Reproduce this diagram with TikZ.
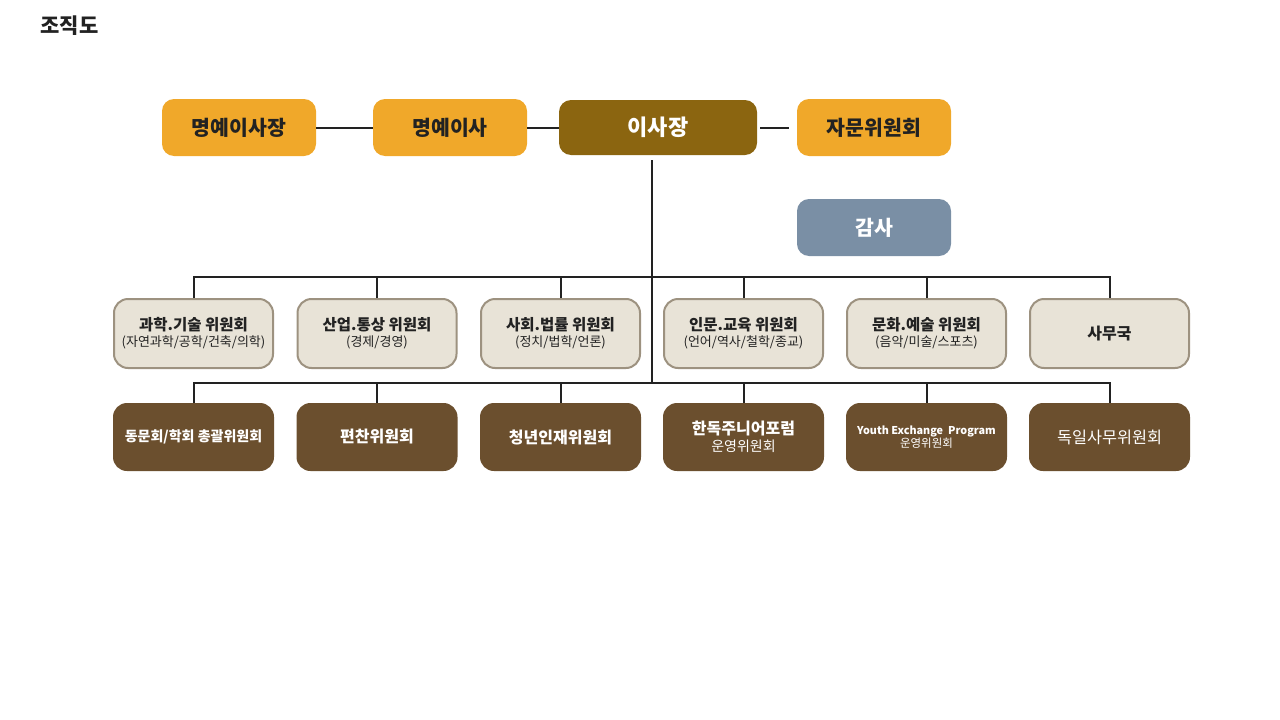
\documentclass[tikz,border=0pt]{standalone}
\usepackage{fontspec}
\setmainfont{Noto Sans CJK KR}
\definecolor{honor}{HTML}{F0A82A}
\definecolor{chair}{HTML}{8B6510}
\definecolor{audit}{HTML}{7A8FA5}
\definecolor{commfill}{HTML}{E8E3D7}
\definecolor{commline}{HTML}{9D9280}
\definecolor{subfill}{HTML}{6B4F2E}
\definecolor{inkdark}{HTML}{222222}
\begin{document}
\begin{tikzpicture}[x=1pt,y=-1pt,
	topbox/.style={rounded corners=12pt,minimum width=154pt,minimum height=57pt,fill=honor,text=inkdark,font=\bfseries\fontsize{20.5}{22}\selectfont},
	commbox/.style={rounded corners=14pt,draw=commline,line width=2pt,fill=commfill,minimum width=159pt,minimum height=69pt,align=center,text=inkdark,font=\fontsize{13}{16}\selectfont},
	subbox/.style={rounded corners=14pt,fill=subfill,minimum width=161pt,minimum height=68pt,align=center,text=white,font=\fontsize{13}{16}\selectfont},
	link/.style={line width=2pt,draw=inkdark}]
%					Cadre :
					\useasboundingbox (0,0) rectangle (1280,720);
					\node[anchor=west,text=inkdark,font=\bfseries\fontsize{21}{23}\selectfont] (title) at (37,26) {조직도};
%					Ligne du haut :
					\node[topbox] (hpres) at (239,127.5) {명예이사장};
					\node[topbox] (hdir) at (450,127.5) {명예이사};
					\node[topbox,minimum width=198pt,minimum height=55pt,fill=chair,text=white,font=\bfseries\fontsize{22}{24}\selectfont] (chairman) at (658,127.5) {이사장};
					\node[topbox] (advis) at (874,127.5) {자문위원회};
					\node[topbox,fill=audit,text=white] (auditor) at (874,227.5) {감사};
					\draw[link] (hpres) -- (hdir);
					\draw[link] (hdir) -- (chairman);
					\draw[link,shorten <=3pt,shorten >=8pt] (chairman) -- (advis);
%					Tronc et barres :
					\coordinate (trunk) at (652,160);
					\coordinate (busa) at (652,277);
					\coordinate (busb) at (652,383);
					\draw[link] (trunk) -- (busb);
%					Comités :
					\node[commbox] (c1) at (193.5,333.5) {{\bfseries\fontsize{15.5}{17}\selectfont 과학.기술 위원회}\\{(자연과학/공학/건축/의학)}};
					\node[commbox] (c2) at (377,333.5) {{\bfseries\fontsize{15.5}{17}\selectfont 산업.통상 위원회}\\{(경제/경영)}};
					\node[commbox] (c3) at (560.5,333.5) {{\bfseries\fontsize{15.5}{17}\selectfont 사회.법률 위원회}\\{(정치/법학/언론)}};
					\node[commbox] (c4) at (743.5,333.5) {{\bfseries\fontsize{15.5}{17}\selectfont 인문.교육 위원회}\\{(언어/역사/철학/종교)}};
					\node[commbox] (c5) at (926.5,333.5) {{\bfseries\fontsize{15.5}{17}\selectfont 문화.예술 위원회}\\{(음악/미술/스포츠)}};
					\node[commbox,font=\bfseries\fontsize{16}{18}\selectfont] (c6) at (1109.5,333.5) {사무국};
%					Sous-comités :
					\node[subbox,font=\bfseries\fontsize{14}{16}\selectfont] (d1) at (193.5,437) {동문회/학회 총괄위원회};
					\node[subbox,font=\bfseries\fontsize{16}{18}\selectfont] (d2) at (377,437) {편찬위원회};
					\node[subbox,font=\bfseries\fontsize{16}{18}\selectfont] (d3) at (560.5,437) {청년인재위원회};
					\node[subbox,font=\fontsize{14}{17}\selectfont] (d4) at (743.5,437) {{\bfseries\fontsize{16}{18}\selectfont 한독주니어포럼}\\{운영위원회}};
					\node[subbox,font=\fontsize{11.5}{13}\selectfont] (d5) at (926.5,437) {{\bfseries\fontsize{10.8}{12}\selectfont Youth Exchange\ \ Program}\\{운영위원회}};
					\node[subbox,font=\fontsize{16.3}{18}\selectfont] (d6) at (1109.5,437) {독일사무위원회};
%					Liaisons :
					\draw[link] (c1.north) -- (c1.north |- busa) -- (c6.north |- busa) -- (c6.north);
					\draw[link] (d1.north) -- (d1.north |- busb) -- (d6.north |- busb) -- (d6.north);
					\foreach \n in {2,...,5}{
						\draw[link] (c\n.north) -- (c\n.north |- busa);
						\draw[link] (d\n.north) -- (d\n.north |- busb);
					}
				\end{tikzpicture}
\end{document}
